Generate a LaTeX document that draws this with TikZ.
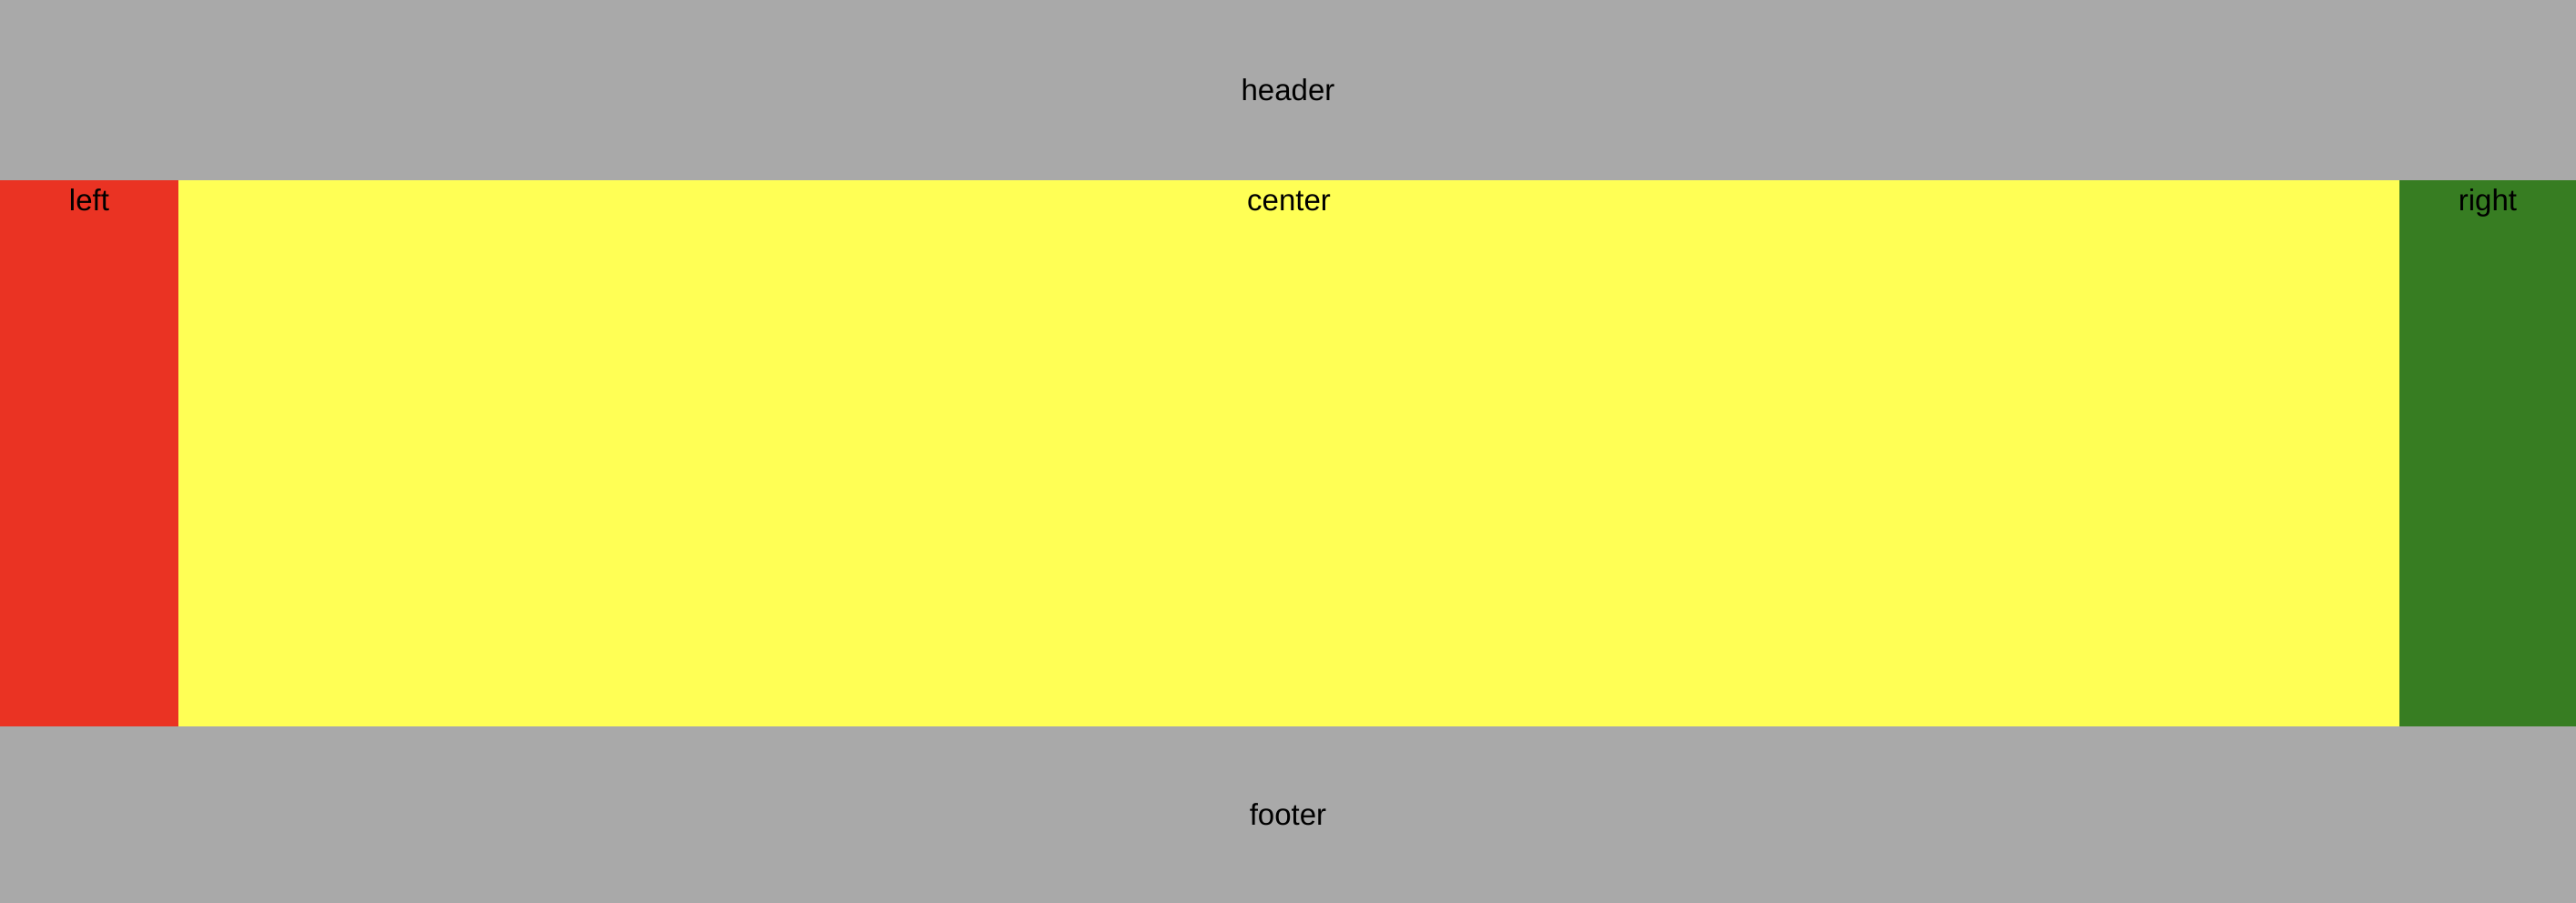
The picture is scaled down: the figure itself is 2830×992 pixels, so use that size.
\documentclass[tikz,border=0pt]{standalone}
\usepackage{fontspec}
\setmainfont{Liberation Sans}
\usetikzlibrary{positioning}
\definecolor{bandgray}{HTML}{A9A9A9}
\definecolor{leftred}{HTML}{EA3323}
\definecolor{centeryellow}{HTML}{FFFF55}
\definecolor{rightgreen}{HTML}{377D22}

\begin{document}
\begin{tikzpicture}[
    x=1pt, y=1pt,
    every node/.style={font=\fontsize{33}{40}\selectfont, text=black},
    region/.style={
      rectangle, draw=none, inner sep=0pt, outer sep=0pt
    },
    band/.style={region, fill=bandgray, minimum width=2830pt},
    colbox/.style={region, minimum height=600pt},
    tag/.style={anchor=base, inner sep=0pt}
  ]
  \useasboundingbox (0,0) rectangle (2830,-992);

  % Bands
  \node[band, minimum height=198pt, anchor=north west] (header) at (0,0) {header};
  \node[colbox, fill=leftred, minimum width=196pt,
    below right=0pt and 0pt of header.south west] (left) {};
  \node[colbox, fill=centeryellow, minimum width=2440pt,
    right=0pt of left] (center) {};
  \node[colbox, fill=rightgreen, minimum width=194pt,
    right=0pt of center] (right) {};
  \node[band, minimum height=194pt,
    below right=0pt and 0pt of left.south west] (footer) {footer};

  % Column labels
  \node[tag] (lefttag) at ([yshift=-34pt]left.north) {left};
  \node[tag] (centertag) at ([yshift=-34pt]center.north) {center};
  \node[tag] (righttag) at ([yshift=-34pt]right.north) {right};

\end{tikzpicture}
\end{document}
